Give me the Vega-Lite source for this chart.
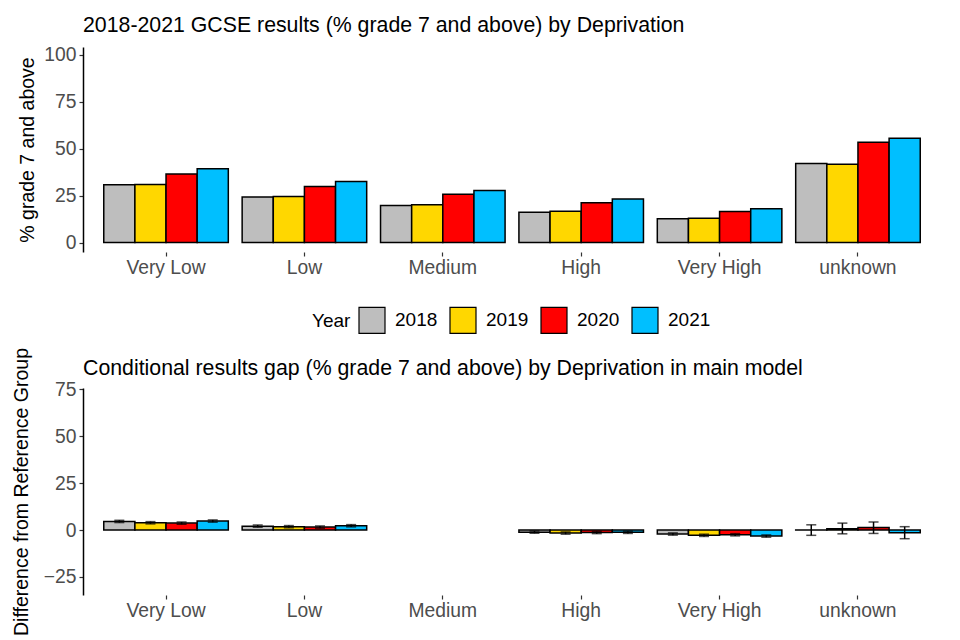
{
  "$schema": "https://vega.github.io/schema/vega-lite/v6.json",
  "padding": {"left": 11, "top": 14, "right": 10, "bottom": 5},
  "bounds": "flush",
  "spacing": 136,
  "background": "white",
  "config": {
    "view": {"stroke": null},
    "font": "Liberation Sans",
    "axis": {
      "grid": false,
      "labelFont": "Liberation Sans",
      "labelFontSize": 19.3,
      "labelColor": "#4D4D4D",
      "titleFont": "Liberation Sans",
      "titleFontSize": 19.5,
      "titleFontWeight": "normal",
      "titleColor": "black",
      "tickColor": "#333333",
      "tickSize": 4,
      "tickWidth": 1.2
    },
    "axisX": {"domain": false, "labelAngle": 0, "labelPadding": 2},
    "axisY": {"domain": true, "domainColor": "black", "domainWidth": 1.5, "labelPadding": 3},
    "title": {"font": "Liberation Sans", "fontSize": 21.3, "fontWeight": "normal", "color": "black", "anchor": "start", "frame": "group", "offset": 10}
  },
  "datasets": {
    "results": [
      {"group": "Very Low", "year": "2018", "value": 30.8},
      {"group": "Very Low", "year": "2019", "value": 31.0},
      {"group": "Very Low", "year": "2020", "value": 36.5},
      {"group": "Very Low", "year": "2021", "value": 39.3},
      {"group": "Low", "year": "2018", "value": 24.3},
      {"group": "Low", "year": "2019", "value": 24.5},
      {"group": "Low", "year": "2020", "value": 29.9},
      {"group": "Low", "year": "2021", "value": 32.6},
      {"group": "Medium", "year": "2018", "value": 19.8},
      {"group": "Medium", "year": "2019", "value": 20.2},
      {"group": "Medium", "year": "2020", "value": 25.7},
      {"group": "Medium", "year": "2021", "value": 27.7},
      {"group": "High", "year": "2018", "value": 16.2},
      {"group": "High", "year": "2019", "value": 16.7},
      {"group": "High", "year": "2020", "value": 21.2},
      {"group": "High", "year": "2021", "value": 23.2},
      {"group": "Very High", "year": "2018", "value": 12.7},
      {"group": "Very High", "year": "2019", "value": 13.0},
      {"group": "Very High", "year": "2020", "value": 16.6},
      {"group": "Very High", "year": "2021", "value": 18.0},
      {"group": "unknown", "year": "2018", "value": 42.2},
      {"group": "unknown", "year": "2019", "value": 41.7},
      {"group": "unknown", "year": "2020", "value": 53.5},
      {"group": "unknown", "year": "2021", "value": 55.6}
    ],
    "gap": [
      {"group": "Very Low", "year": "2018", "value": 4.6, "lo": 4.0, "hi": 5.2},
      {"group": "Very Low", "year": "2019", "value": 3.9, "lo": 3.3, "hi": 4.5},
      {"group": "Very Low", "year": "2020", "value": 3.7, "lo": 3.1, "hi": 4.3},
      {"group": "Very Low", "year": "2021", "value": 4.8, "lo": 4.2, "hi": 5.4},
      {"group": "Low", "year": "2018", "value": 2.1, "lo": 1.5, "hi": 2.7},
      {"group": "Low", "year": "2019", "value": 1.8, "lo": 1.2, "hi": 2.4},
      {"group": "Low", "year": "2020", "value": 1.6, "lo": 1.0, "hi": 2.2},
      {"group": "Low", "year": "2021", "value": 2.3, "lo": 1.7, "hi": 2.9},
      {"group": "High", "year": "2018", "value": -1.1, "lo": -1.7, "hi": -0.5},
      {"group": "High", "year": "2019", "value": -1.6, "lo": -2.2, "hi": -1.0},
      {"group": "High", "year": "2020", "value": -1.3, "lo": -1.9, "hi": -0.7},
      {"group": "High", "year": "2021", "value": -1.2, "lo": -1.8, "hi": -0.6},
      {"group": "Very High", "year": "2018", "value": -2.1, "lo": -2.7, "hi": -1.5},
      {"group": "Very High", "year": "2019", "value": -2.8, "lo": -3.4, "hi": -2.2},
      {"group": "Very High", "year": "2020", "value": -2.5, "lo": -3.1, "hi": -1.9},
      {"group": "Very High", "year": "2021", "value": -3.2, "lo": -3.8, "hi": -2.6},
      {"group": "unknown", "year": "2018", "value": 0.1, "lo": -2.8, "hi": 2.8},
      {"group": "unknown", "year": "2019", "value": 0.7, "lo": -2.0, "hi": 3.7},
      {"group": "unknown", "year": "2020", "value": 1.4, "lo": -1.8, "hi": 4.3},
      {"group": "unknown", "year": "2021", "value": -1.4, "lo": -4.6, "hi": 1.8}
    ]
  },
  "resolve": {"legend": {"color": "independent"}},
  "vconcat": [
    {
      "width": 858,
      "height": 205,
      "title": "2018-2021 GCSE results (% grade 7 and above) by Deprivation",
      "data": {"name": "results"},
      "mark": {"type": "bar", "stroke": "black", "strokeWidth": 1.5},
      "encoding": {
        "x": {
          "field": "group",
          "type": "nominal",
          "sort": ["Very Low", "Low", "Medium", "High", "Very High", "unknown"],
          "scale": {"domain": ["Very Low", "Low", "Medium", "High", "Very High", "unknown"], "paddingInner": 0.1, "paddingOuter": 0.15},
          "axis": {"title": null}
        },
        "xOffset": {"field": "year", "type": "nominal", "scale": {"paddingInner": 0, "paddingOuter": 0}},
        "y": {
          "field": "value",
          "type": "quantitative",
          "scale": {"domain": [-5, 104.2], "nice": false, "zero": false},
          "axis": {"title": "% grade 7 and above", "values": [0, 25, 50, 75, 100], "titlePadding": 6}
        },
        "color": {
          "field": "year",
          "type": "nominal",
          "title": "Year",
          "scale": {"domain": ["2018", "2019", "2020", "2021"], "range": ["#BEBEBE", "#FFD700", "#FF0000", "#00BFFF"]},
          "legend": {
            "orient": "none",
            "legendX": 229,
            "legendY": 259,
            "direction": "horizontal",
            "titleOrient": "left",
            "titleFontSize": 19,
            "titleFontWeight": "normal",
            "titleColor": "black",
            "titleFont": "Liberation Sans",
            "titlePadding": 7,
            "labelFontSize": 19,
            "labelColor": "black",
            "labelFont": "Liberation Sans",
            "labelOffset": 9,
            "columnPadding": 9,
            "symbolType": "square",
            "symbolSize": 676,
            "symbolStrokeColor": "black",
            "symbolStrokeWidth": 1.2,
            "symbolOpacity": 1
          }
        }
      }
    },
    {
      "width": 858,
      "height": 207,
      "title": {"text": "Conditional results gap (% grade 7 and above) by Deprivation in main model", "offset": -32},
      "data": {"name": "gap"},
      "encoding": {
        "x": {
          "field": "group",
          "type": "nominal",
          "sort": ["Very Low", "Low", "Medium", "High", "Very High", "unknown"],
          "scale": {"domain": ["Very Low", "Low", "Medium", "High", "Very High", "unknown"], "paddingInner": 0.1, "paddingOuter": 0.15},
          "axis": {"title": null}
        },
        "xOffset": {"field": "year", "type": "nominal", "scale": {"domain": ["2018", "2019", "2020", "2021"], "paddingInner": 0, "paddingOuter": 0}}
      },
      "layer": [
        {
          "mark": {"type": "bar", "stroke": "black", "strokeWidth": 1.5},
          "encoding": {
            "y": {
              "field": "value",
              "type": "quantitative",
              "scale": {"domain": [-34.6, 75.7], "nice": false, "zero": false},
              "axis": {"title": "Difference from Reference Group", "values": [-25, 0, 25, 50, 75], "titlePadding": 12}
            },
            "y2": {"datum": 0},
            "color": {"field": "year", "type": "nominal", "legend": null}
          }
        },
        {
          "mark": {"type": "rule", "color": "black", "strokeWidth": 1.5},
          "encoding": {
            "y": {"field": "lo", "type": "quantitative"},
            "y2": {"field": "hi"}
          }
        },
        {
          "mark": {"type": "tick", "color": "black", "thickness": 1.5, "size": 10},
          "encoding": {"y": {"field": "lo", "type": "quantitative"}}
        },
        {
          "mark": {"type": "tick", "color": "black", "thickness": 1.5, "size": 10},
          "encoding": {"y": {"field": "hi", "type": "quantitative"}}
        }
      ]
    }
  ]
}
